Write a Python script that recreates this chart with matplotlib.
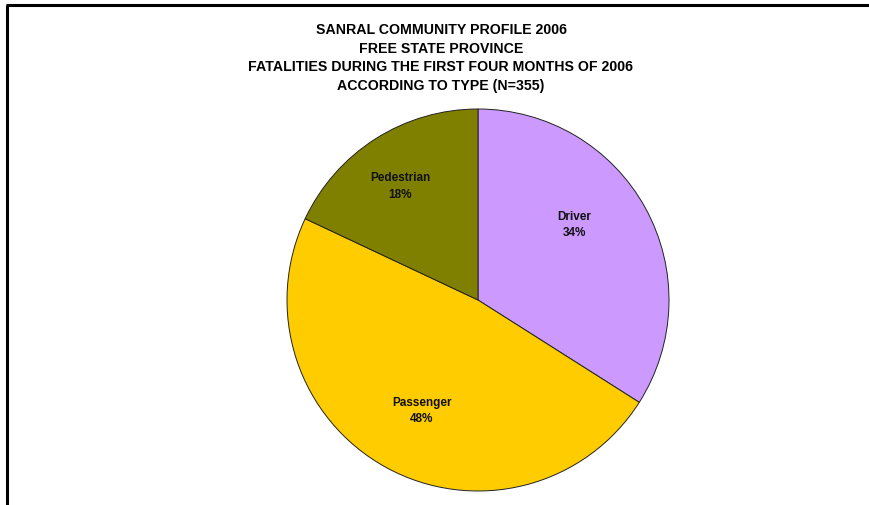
import matplotlib.pyplot as plt
import numpy as np

plt.rcParams['font.family'] = ['Liberation Sans', 'DejaVu Sans']

# chart data
categories = ['Driver', 'Passenger', 'Pedestrian']
shares = [34, 48, 18]
colors = ['#CC99FF', '#FFCC00', '#808000']
title_lines = [
    'SANRAL COMMUNITY PROFILE 2006',
    'FREE STATE PROVINCE',
    'FATALITIES DURING THE FIRST FOUR MONTHS OF 2006',
    'ACCORDING TO TYPE (N=355)',
]

fig = plt.figure(figsize=(8.69, 5.05), dpi=100)

# left/top frame lines of the original page
fig.add_artist(plt.Line2D([6.5 / 869, 6.5 / 869], [0, 1 - 4.5 / 505], color='black', lw=2.2,
                          solid_capstyle='butt'))
fig.add_artist(plt.Line2D([5.5 / 869, 1], [1 - 4.5 / 505, 1 - 4.5 / 505], color='black', lw=2.2,
                          solid_capstyle='butt'))

fig.text(441 / 869, 1 - 58 / 505, '\n'.join(title_lines), ha='center', va='center',
         fontsize=10.2, fontweight='bold', linespacing=1.43)

# pie centred at (478, 300) px, radius ~191 px
r_px = 191
ax = fig.add_axes([(478 - r_px) / 869, (505 - 300 - r_px) / 505, 2 * r_px / 869, 2 * r_px / 505])
wedges, texts = ax.pie(shares, colors=colors, startangle=90, counterclock=False,
                       wedgeprops=dict(edgecolor='#222222', linewidth=0.7))
ax.set_xlim(-1, 1)
ax.set_ylim(-1, 1)
ax.set_aspect('auto')

# label placement (radius fraction, angle tweak in degrees)
label_r = [0.64, 0.65, 0.72]
label_shift = [9, 2, 2]
for w, name, val, rr, sh in zip(wedges, categories, shares, label_r, label_shift):
    ang = np.deg2rad((w.theta1 + w.theta2) / 2 + sh)
    ax.text(rr * np.cos(ang), rr * np.sin(ang), f'{name}\n{val}%', ha='center', va='center',
            fontsize=8.5, fontweight='bold', color='#111111', linespacing=1.5)

fig.savefig('out.png', dpi=100)
